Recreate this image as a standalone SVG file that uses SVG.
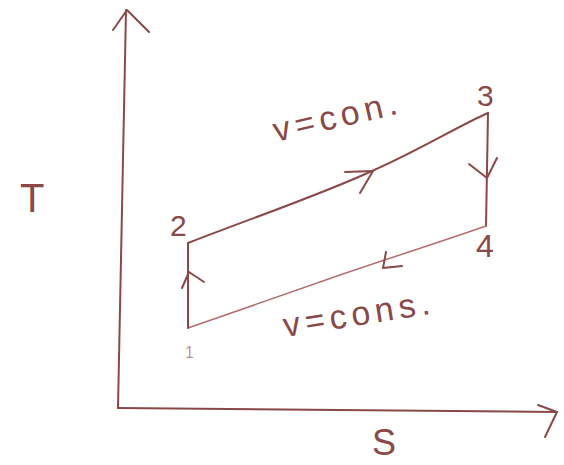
<svg xmlns="http://www.w3.org/2000/svg" width="564" height="465" viewBox="0 0 564 465">
<style>
.ln{fill:none;stroke:#8a4848;stroke-width:2;stroke-linecap:round;stroke-linejoin:round}
.lt{fill:none;stroke:#b07070;stroke-width:1.6;stroke-linecap:round}
.tx{font-family:"Liberation Sans",Arial,sans-serif;fill:#8a4848}
.lb{font-family:"Liberation Sans",Arial,sans-serif;fill:#8a4848;font-size:34px;letter-spacing:5px}
</style>
<rect width="564" height="465" fill="#fff"/>
<g id="axes">
<path class="ln" d="M118,408 L126,10 M113,30 L127,10 L149,32"/>
<path class="ln" d="M118,408 L556,412 M538,405 L557,412 L545,437"/>
<text class="tx" x="20" y="212" font-size="40">T</text>
<text class="tx" x="372" y="455" font-size="36">S</text>
</g>
<g id="node-1"><text class="tx" x="185" y="358" font-size="16" fill-opacity="0.6">1</text></g>
<g id="node-2"><text class="tx" x="170" y="236" font-size="30">2</text></g>
<g id="node-3"><text class="tx" x="477" y="106" font-size="30">3</text></g>
<g id="node-4"><text class="tx" x="476" y="257" font-size="32">4</text></g>
<g id="connectors">
<path class="ln" d="M188,243 C260,215 320,195 372,171 C420,150 460,125 488,113"/>
<path class="ln" d="M345,172 L373,171 L360,193"/>
<path class="ln" d="M488,113 L486,226"/>
<path class="ln" d="M469,164 L487,178 L497,158"/>
<path class="lt" d="M486,226 C440,242 390,258 340,275 C290,292 240,310 188,328"/>
<path class="ln" d="M386,252 L383,268 L402,266"/>
<path class="ln" d="M188,328 L188,243"/>
<path class="ln" d="M182,288 L189,272 L204,282"/>
</g>
<text class="lb" x="276" y="142" transform="rotate(-13 276 142)">v=con.</text>
<text class="lb" x="285" y="337" transform="rotate(-9 285 337)">v=cons.</text>
</svg>
